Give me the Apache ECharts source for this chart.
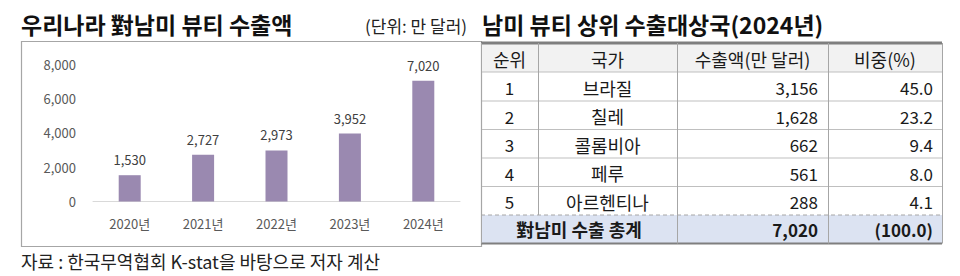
<!DOCTYPE html>
<html>
<head>
<meta charset="utf-8">
<script src="https://cdn.jsdelivr.net/npm/echarts@6/dist/echarts.min.js"></script>
<style>
html,body{margin:0;padding:0;background:#fff;}
#main{width:960px;height:276px;}
</style>
</head>
<body>
<div id="main"></div>
<script>
// 왼쪽 막대 그래프 데이터
var years = ['2020년', '2021년', '2022년', '2023년', '2024년'];
var exportAmt = [1530, 2727, 2973, 3952, 7020];
var yTicks = [0, 2000, 4000, 6000, 8000];

// 오른쪽 표 데이터
var tableHead = ['순위', '국가', '수출액(만 달러)', '비중(%)'];
var ranks = ['1', '2', '3', '4', '5'];
var countries = ['브라질', '칠레', '콜롬비아', '페루', '아르헨티나'];
var countryAmt = [3156, 1628, 662, 561, 288];
var countryShare = [45.0, 23.2, 9.4, 8.0, 4.1];
var totalLabel = '對남미 수출 총계';
var totalAmt = 7020;
var totalShare = 100.0;

var FONT = '"Noto Sans CJK KR", "Noto Sans", sans-serif';

function fmt(n) { return n.toLocaleString('en-US'); }

var chart = echarts.init(document.getElementById('main'), null, { renderer: 'svg' });

// 표 좌표
var colX = [481, 538, 677, 828, 942];
var rowY = [43, 72, 101, 129.5, 158, 186.5, 215, 243.5];

function txt(t, x, y, opt) {
  opt = opt || {};
  return {
    type: 'text',
    z: 10,
    style: {
      text: t, x: x, y: y,
      fill: opt.fill || '#1a1a1a',
      fontSize: opt.size || 18,
      fontFamily: FONT,
      fontWeight: opt.weight || 'normal',
      align: opt.align || 'left',
      verticalAlign: 'middle'
    }
  };
}
function line(x1, y1, x2, y2, color, w, dash) {
  return {
    type: 'line',
    z: 5,
    shape: { x1: x1, y1: y1, x2: x2, y2: y2 },
    style: { stroke: color, lineWidth: w || 1, lineDash: dash || null }
  };
}

var g = [];
// 제목들
g.push(txt('우리나라 對남미 뷰티 수출액', 21, 24, { size: 23, weight: 'bold', fill: '#111' }));
g.push(txt('(단위: 만 달러)', 365, 25, { size: 17, fill: '#222' }));
g.push(txt('남미 뷰티 상위 수출대상국(2024년)', 482, 24, { size: 23, weight: 'bold', fill: '#111' }));
g.push(txt('자료 : 한국무역협회 K-stat을 바탕으로 저자 계산', 21, 261, { size: 18, fill: '#222' }));

// 그래프 테두리
g.push({
  type: 'rect', z: 1,
  shape: { x: 21.5, y: 41.5, width: 460, height: 205 },
  style: { fill: 'none', stroke: '#a6a6a6', lineWidth: 1.2 }
});

// 표 배경
g.push({ type: 'rect', z: 2, shape: { x: colX[0], y: rowY[0], width: colX[4] - colX[0], height: rowY[1] - rowY[0] }, style: { fill: '#f2f2f2' } });
g.push({ type: 'rect', z: 2, shape: { x: colX[0], y: rowY[6], width: colX[4] - colX[0], height: rowY[7] - rowY[6] }, style: { fill: '#dce3f2' } });

// 가로 줄
for (var r = 1; r < 6; r++) {
  g.push(line(colX[0], rowY[r], colX[4], rowY[r], '#bfbfbf', 1));
}
g.push(line(colX[0], rowY[6], colX[4], rowY[6], '#a6a6a6', 1, [4, 3]));
g.push(line(colX[0], rowY[0], colX[4], rowY[0], '#7f7f7f', 3));
g.push(line(colX[0], rowY[7], colX[4], rowY[7], '#7f7f7f', 2));
// 세로 줄
g.push(line(colX[0] + 0.5, rowY[0], colX[0] + 0.5, rowY[7], '#a6a6a6', 1));
g.push(line(colX[4] + 0.5, rowY[0], colX[4] + 0.5, rowY[7], '#a6a6a6', 1));
g.push(line(colX[1] + 0.5, rowY[0], colX[1] + 0.5, rowY[6], '#a6a6a6', 1));
g.push(line(colX[2] + 0.5, rowY[0], colX[2] + 0.5, rowY[7], '#a6a6a6', 1));
g.push(line(colX[3] + 0.5, rowY[0], colX[3] + 0.5, rowY[7], '#a6a6a6', 1));

// 머리글
for (var c = 0; c < 4; c++) {
  g.push(txt(tableHead[c], (colX[c] + colX[c + 1]) / 2, (rowY[0] + rowY[1]) / 2 + 1, { align: 'center' }));
}
// 본문
for (var i = 0; i < ranks.length; i++) {
  var cy = (rowY[i + 1] + rowY[i + 2]) / 2 + 1;
  g.push(txt(ranks[i], (colX[0] + colX[1]) / 2, cy, { align: 'center', size: 17 }));
  g.push(txt(countries[i], (colX[1] + colX[2]) / 2, cy, { align: 'center' }));
  g.push(txt(fmt(countryAmt[i]), colX[3] - 10, cy, { align: 'right', size: 17 }));
  g.push(txt(countryShare[i].toFixed(1), colX[4] - 9, cy, { align: 'right', size: 17 }));
}
// 총계
var ty = (rowY[6] + rowY[7]) / 2;
g.push(txt(totalLabel, (colX[0] + colX[2]) / 2, ty, { align: 'center', weight: 'bold' }));
g.push(txt(fmt(totalAmt), colX[3] - 10, ty, { align: 'right', weight: 'bold', size: 17 }));
g.push(txt('(' + totalShare.toFixed(1) + ')', colX[4] - 9, ty, { align: 'right', weight: 'bold', size: 17 }));

chart.setOption({
  animation: false,
  backgroundColor: '#fff',
  grid: { left: 93, right: 500, top: 64, bottom: 74.5 },
  xAxis: {
    type: 'category',
    data: years,
    axisLine: { lineStyle: { color: '#d9d9d9' } },
    axisTick: { show: false },
    axisLabel: { color: '#595959', fontSize: 13, fontFamily: FONT, margin: 15 }
  },
  yAxis: {
    type: 'value',
    min: yTicks[0],
    max: yTicks[yTicks.length - 1],
    interval: yTicks[1] - yTicks[0],
    axisLine: { show: false },
    axisTick: { show: false },
    splitLine: { show: false },
    axisLabel: {
      color: '#595959', fontSize: 13, fontFamily: FONT, margin: 17,
      formatter: function (v) { return fmt(v); }
    }
  },
  series: [{
    type: 'bar',
    data: exportAmt,
    barWidth: 22,
    itemStyle: { color: '#9a89b0' },
    label: {
      show: true, position: 'top', distance: 9,
      color: '#404040', fontSize: 13, fontFamily: FONT,
      formatter: function (p) { return fmt(p.value); }
    }
  }],
  graphic: g
});
</script>
</body>
</html>
